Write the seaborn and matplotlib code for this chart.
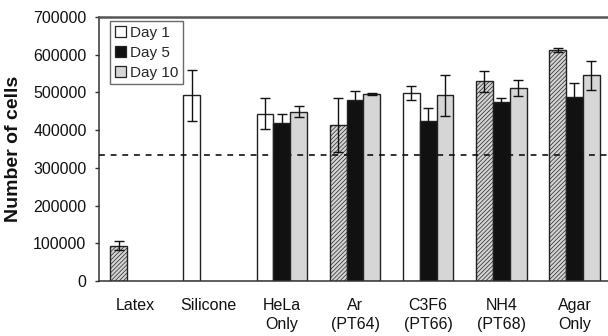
import numpy as np
import pandas as pd
import seaborn as sns
import matplotlib
matplotlib.use("Agg")
import matplotlib.pyplot as plt
from matplotlib.patches import Patch

# data
groups = ["Latex", "Silicone", "HeLa\nOnly", "Ar\n(PT64)", "C3F6\n(PT66)", "NH4\n(PT68)", "Agar\nOnly"]
days = ["Day 1", "Day 5", "Day 10"]
day1 = [93000, 492000, 444000, 414000, 499000, 529000, 612000]
day5 = [np.nan, np.nan, 419000, 481000, 424000, 474000, 487000]
day10 = [np.nan, np.nan, 449000, 495000, 492000, 511000, 545000]
err1 = [12000, 67000, 40000, 72000, 18000, 29000, 6000]
err5 = [np.nan, np.nan, 24000, 22000, 35000, 11000, 39000]
err10 = [np.nan, np.nan, 14000, 3000, 55000, 21000, 38000]
hatched_groups = ["Latex", "Ar\n(PT64)", "NH4\n(PT68)", "Agar\nOnly"]  # first bar drawn hatched
reference_level = 335000

df = pd.DataFrame({
    "group": groups * 3,
    "day": [d for d in days for _ in groups],
    "cells": day1 + day5 + day10,
    "err": err1 + err5 + err10,
}).dropna()

sns.set_style("white")
plt.rcParams["font.family"] = ["Liberation Sans", "DejaVu Sans"]
plt.rcParams["hatch.color"] = "#707070"
plt.rcParams["hatch.linewidth"] = 0.5

fig = plt.figure(figsize=(6.08, 3.36), dpi=100)
ax = fig.add_axes([99 / 608, 55 / 336, 512 / 608, 264 / 336])

colors = {"Day 1": "white", "Day 5": "#111111", "Day 10": "#d6d6d6"}
width = 0.69
sns.barplot(data=df, x="group", y="cells", hue="day", order=groups, hue_order=days,
            palette=colors, width=width, errorbar=None, edgecolor="#222222",
            linewidth=1.0, legend=False, ax=ax)

# hatch the first bar of selected groups
step = width / 3
for p in ax.patches:
    xc = p.get_x() + p.get_width() / 2
    gi = int(round(xc))
    slot = int(round((xc - gi) / step)) + 1
    if slot == 0 and groups[gi] in hatched_groups:
        p.set_facecolor("#d4d4d4")
        p.set_hatch("////////")

# error bars
for k, d in enumerate(days):
    sub = df[df["day"] == d]
    xs = [groups.index(g) + (k - 1) * step for g in sub["group"]]
    ax.errorbar(xs, sub["cells"], yerr=sub["err"], fmt="none", ecolor="#111111",
                elinewidth=1.0, capsize=3.5, capthick=1.0, zorder=5)

ax.axhline(reference_level, color="#111111", linestyle=(0, (3.5, 3.5)), linewidth=1.2, zorder=4)

ax.set_xlim(-0.5, 6.5)
ax.set_ylim(0, 700000)
ax.set_yticks(np.arange(0, 700001, 100000))
ax.set_yticklabels([str(v) for v in range(0, 700001, 100000)], fontsize=11.5, color="#111111")
ax.set_xticks(range(len(groups)))
ax.set_xticklabels(groups, fontsize=11.5, linespacing=1.4, color="#111111")
ax.set_xticks(np.arange(-0.5, 6.6, 1.0), minor=True)
ax.tick_params(axis="x", which="major", length=0, pad=12)
ax.tick_params(axis="x", which="minor", length=3, width=1, color="#333333", direction="out")
ax.tick_params(axis="y", length=3, width=1, color="#333333", direction="out", left=True, pad=6)

ax.set_xlabel("")
ax.set_ylabel("Number of cells", fontsize=14, fontweight="bold", color="#111111")
ax.yaxis.set_label_coords(-0.15, 0.5)

for s in ["left", "bottom"]:
    ax.spines[s].set_color("#333333")
    ax.spines[s].set_linewidth(1.1)
ax.spines["top"].set_color("#555555")
ax.spines["top"].set_linewidth(1.8)
ax.spines["right"].set_visible(False)

handles = [Patch(facecolor=colors[d], edgecolor="#222222", linewidth=0.9, label=d) for d in days]
leg = ax.legend(handles=handles, loc="upper left", bbox_to_anchor=(0.022, 0.985), fontsize=11,
                frameon=True, fancybox=False, edgecolor="#444444", handlelength=0.7,
                handleheight=0.7, handletextpad=0.3, borderpad=0.3, labelspacing=0.4,
                borderaxespad=0)
leg.get_frame().set_linewidth(1.0)

fig.savefig("out.png", dpi=100)
